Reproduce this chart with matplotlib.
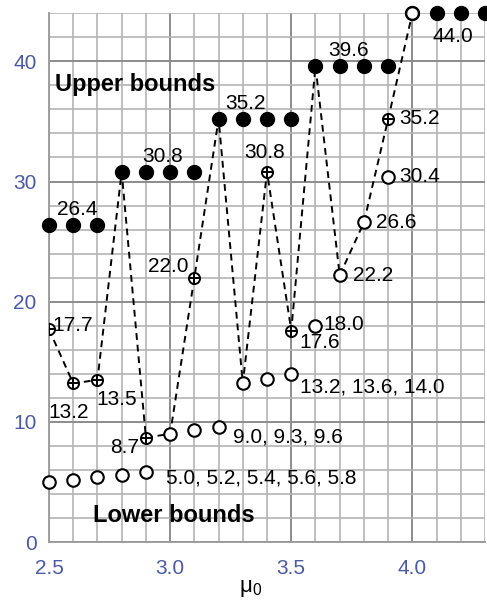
import matplotlib.pyplot as plt
from matplotlib.ticker import MultipleLocator

plt.rcParams['font.family'] = ['Liberation Sans', 'DejaVu Sans']
plt.rcParams['mathtext.fontset'] = 'custom'
plt.rcParams['mathtext.rm'] = 'Liberation Sans'

# Upper bounds (filled circles).
upper_x = [2.5, 2.6, 2.7, 2.8, 2.9, 3.0, 3.1, 3.2, 3.3, 3.4, 3.5,
           3.6, 3.7, 3.8, 3.9, 4.0, 4.1, 4.2, 4.3]
upper_y = [26.4, 26.4, 26.4, 30.8, 30.8, 30.8, 30.8, 35.2, 35.2, 35.2, 35.2,
           39.6, 39.6, 39.6, 39.6, 44.0, 44.0, 44.0, 44.0]

# Lower bounds (open circles).
lower_x = [2.5, 2.6, 2.7, 2.8, 2.9, 3.0, 3.1, 3.2, 3.3, 3.4, 3.5,
           3.6, 3.7, 3.8, 3.9, 4.0]
lower_y = [5.0, 5.2, 5.4, 5.6, 5.8, 9.0, 9.3, 9.6, 13.2, 13.6, 14.0,
           18.0, 22.2, 26.6, 30.4, 44.0]

# Path followed (dashed line).
path_x = [2.5, 2.6, 2.7, 2.8, 2.9, 3.0, 3.1, 3.2, 3.3, 3.4, 3.5,
          3.6, 3.7, 3.8, 3.9, 4.0]
path_y = [17.7, 13.2, 13.5, 30.8, 8.7, 9.0, 22.0, 35.2, 13.2, 30.8, 17.6,
          39.6, 22.2, 26.6, 35.2, 44.0]

# Intermediate points (crossed circles).
cross_x = [2.5, 2.6, 2.7, 2.9, 3.1, 3.4, 3.5, 3.9]
cross_y = [17.7, 13.2, 13.5, 8.7, 22.0, 30.8, 17.6, 35.2]

fig = plt.figure(figsize=(4.87, 6.01), dpi=100)
ax = fig.add_axes([0.1006, 0.098, 0.8954, 0.880])

# Grid.
ax.set_xlim(2.5, 4.3)
ax.set_ylim(0, 44)
ax.xaxis.set_major_locator(MultipleLocator(0.5))
ax.xaxis.set_minor_locator(MultipleLocator(0.1))
ax.yaxis.set_major_locator(MultipleLocator(10))
ax.yaxis.set_minor_locator(MultipleLocator(2))
ax.grid(which='minor', color='#b4b4b4', linewidth=1.2, zorder=0)
ax.grid(which='major', color='#8c8c8c', linewidth=1.4, zorder=0)
ax.set_axisbelow(True)
for side in ['left', 'bottom']:
    ax.spines[side].set_color('#9a9a9a')
    ax.spines[side].set_linewidth(1.3)
ax.spines['top'].set_visible(False)
ax.spines['right'].set_visible(False)
ax.tick_params(which='both', length=0)
ax.tick_params(axis='y', pad=9, labelsize=15, labelcolor='#4a5aa3')
ax.tick_params(axis='x', pad=12, labelsize=15, labelcolor='#4a5aa3')
ax.set_xticks([2.5, 3.0, 3.5, 4.0])
ax.set_xticklabels(['2.5', '3.0', '3.5', '4.0'])

# Dashed path and markers.
ax.plot(path_x, path_y, color='black', linestyle=(0, (3.5, 2.5)),
        linewidth=1.4, zorder=2, clip_on=False)
ax.plot(upper_x, upper_y, 'o', color='black', markersize=10, zorder=3,
        clip_on=False)
ax.plot(lower_x, lower_y, 'o', markerfacecolor='white', markeredgecolor='black',
        markeredgewidth=1.5, markersize=9, zorder=4, clip_on=False)
ax.plot(cross_x, cross_y, 'o', markerfacecolor='white', markeredgecolor='black',
        markeredgewidth=1.4, markersize=8, zorder=4)
ax.plot(cross_x, cross_y, '+', color='black', markeredgewidth=1.4,
        markersize=8, zorder=5)

# Value labels.
fs = 15
ax.text(2.616, 26.9, '26.4', fontsize=fs, ha='center', va='bottom')
ax.text(2.967, 31.3, '30.8', fontsize=fs, ha='center', va='bottom')
ax.text(3.31, 35.7, '35.2', fontsize=fs, ha='center', va='bottom')
ax.text(3.735, 40.1, '39.6', fontsize=fs, ha='center', va='bottom')
ax.text(4.166, 42.1, '44.0', fontsize=fs, ha='center', va='center')
ax.text(2.515, 18.0, '17.7', fontsize=fs, ha='left', va='center')
ax.text(2.58, 10.8, '13.2', fontsize=fs, ha='center', va='center')
ax.text(2.78, 11.9, '13.5', fontsize=fs, ha='center', va='center')
ax.text(2.87, 7.9, '8.7', fontsize=fs, ha='right', va='center')
ax.text(3.075, 22.9, '22.0', fontsize=fs, ha='right', va='center')
ax.text(3.39, 31.6, '30.8', fontsize=fs, ha='center', va='bottom')
ax.text(3.535, 16.6, '17.6', fontsize=fs, ha='left', va='center')
ax.text(3.633, 18.1, '18.0', fontsize=fs, ha='left', va='center')
ax.text(3.535, 12.9, '13.2, 13.6, 14.0', fontsize=fs, ha='left', va='center')
ax.text(3.26, 8.75, '9.0, 9.3, 9.6', fontsize=fs, ha='left', va='center')
ax.text(2.985, 5.3, '5.0, 5.2, 5.4, 5.6, 5.8', fontsize=fs, ha='left',
        va='center')
ax.text(3.756, 22.2, '22.2', fontsize=fs, ha='left', va='center')
ax.text(3.85, 26.6, '26.6', fontsize=fs, ha='left', va='center')
ax.text(3.945, 30.4, '30.4', fontsize=fs, ha='left', va='center')
ax.text(3.945, 35.2, '35.2', fontsize=fs, ha='left', va='center')

# Region titles.
ax.text(2.525, 38.1, 'Upper bounds', fontsize=17, fontweight='bold',
        ha='left', va='center')
ax.text(2.68, 2.25, 'Lower bounds', fontsize=17, fontweight='bold',
        ha='left', va='center')

ax.set_xlabel('μ$_0$', fontsize=16, va='center')
ax.xaxis.set_label_coords(0.463, -0.088)

plt.savefig('out.png', dpi=100)
